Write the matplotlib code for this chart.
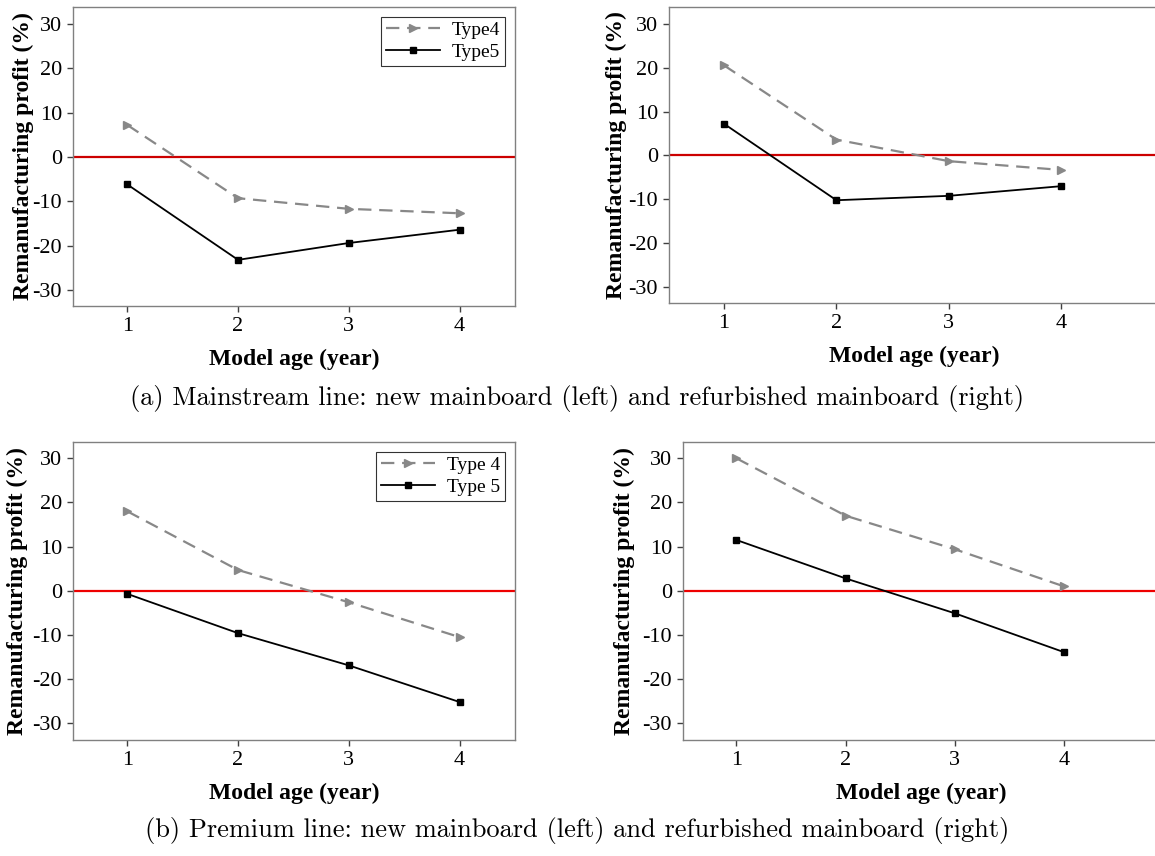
import numpy as np
import matplotlib
matplotlib.use("Agg")
import matplotlib.pyplot as plt

plt.rcParams['font.family'] = ['Liberation Serif', 'DejaVu Serif']
plt.rcParams['axes.unicode_minus'] = False

#---- data ----
years = [1, 2, 3, 4]

# (a) mainstream line
a_new_type4 = [7.2, -9.3, -11.7, -12.7]
a_new_type5 = [-6.2, -23.2, -19.4, -16.4]
a_ref_type4 = [20.5, 3.6, -1.3, -3.3]
a_ref_type5 = [7.2, -10.2, -9.2, -7.0]

# (b) premium line
b_new_type4 = [18.0, 4.7, -2.6, -10.5]
b_new_type5 = [-0.7, -9.6, -16.9, -25.2]
b_ref_type4 = [30.0, 17.0, 9.4, 1.0]
b_ref_type5 = [11.5, 2.8, -5.1, -13.9]

y_ticks = [-30, -20, -10, 0, 10, 20, 30]

caption_a = "(a) Mainstream line: new mainboard (left) and refurbished mainboard (right)"
caption_b = "(b) Premium line: new mainboard (left) and refurbished mainboard (right)"

#---- figure ----
fig = plt.figure(figsize=(11.55, 8.56), dpi=100)

W, H = 1155.0, 856.0
def box(x0, y0, x1, y1):
  return [x0/W, 1 - y1/H, (x1-x0)/W, (y1-y0)/H]

panels = [
  # rect(px), xlim, ylim, type4, type5, legend labels, zero line colour, ylabel pad
  (box(73, 7, 515, 306),    (0.51, 4.5),  (-33.6, 33.8), a_new_type4, a_new_type5, ["Type4", "Type5"],   "#cc0000", -1),
  (box(669, 7, 1160, 303),  (0.51, 4.88), (-33.6, 33.8), a_ref_type4, a_ref_type5, None,                 "#cc0000", 1),
  (box(73, 442, 515, 740),  (0.51, 4.5),  (-33.8, 33.7), b_new_type4, b_new_type5, ["Type 4", "Type 5"], "#ee0000", 3),
  (box(683, 442, 1160, 740),(0.51, 4.88), (-33.8, 33.7), b_ref_type4, b_ref_type5, None,                 "#ee0000", 5),
]

for rect, xlim, ylim, t4, t5, labels, zcol, ypad in panels:
  ax = fig.add_axes(rect)
  ax.axhline(0, color=zcol, lw=1.6, zorder=1)
  ax.plot(years, t4, color="#888888", ls=(0, (6, 3.5)), lw=1.6, marker=">",
          ms=6, mfc="#888888", mec="#888888", zorder=2,
          label=labels[0] if labels else None)
  ax.plot(years, t5, color="black", ls="-", lw=1.3, marker="s",
          ms=5, zorder=3, label=labels[1] if labels else None)
  ax.set_xlim(*xlim)
  ax.set_ylim(*ylim)
  ax.set_xticks(years)
  ax.set_yticks(y_ticks)
  for s in ax.spines.values():
    s.set_color("#808080")
    s.set_linewidth(1.0)
  ax.tick_params(direction="out", length=4, width=1, color="#404040",
                 labelsize=16, pad=4, top=False, right=False)
  ax.set_xlabel("Model age (year)", fontsize=17, fontweight="bold", labelpad=9)
  ax.set_ylabel("Remanufacturing profit (%)", fontsize=17, fontweight="bold", labelpad=ypad)
  if labels:
    leg = ax.legend(loc="upper right", fontsize=14, frameon=True, fancybox=False,
                    edgecolor="black", handlelength=2.8, borderpad=0.25,
                    labelspacing=0.2, handletextpad=0.6, borderaxespad=0.5)
    leg.get_frame().set_linewidth(0.8)

fig.text(0.5, 1 - 398/H, caption_a, ha="center", va="center",
         fontsize=19, family=["cmr10", "DejaVu Serif"])
fig.text(0.5, 1 - 830/H, caption_b, ha="center", va="center",
         fontsize=19, family=["cmr10", "DejaVu Serif"])

fig.savefig("out.png", dpi=100)
